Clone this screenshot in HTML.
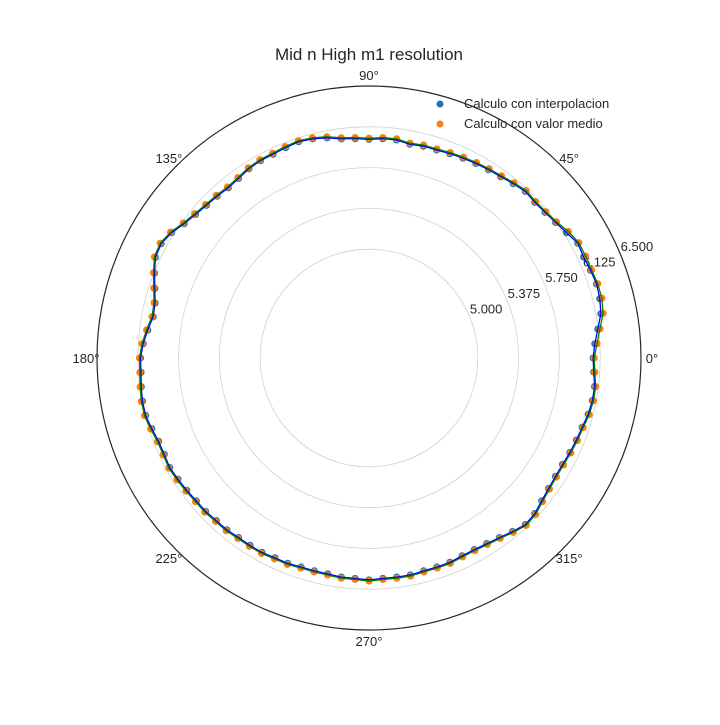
<!DOCTYPE html>
<html><head><meta charset="utf-8"><style>
body{margin:0;background:#fff}
text{font-family:"Liberation Sans","DejaVu Sans",sans-serif;fill:#262626}
</style></head><body>
<svg id="chart" width="720" height="720" xmlns="http://www.w3.org/2000/svg">
<rect width="720" height="720" fill="#fff"/>
<text x="369" y="60" text-anchor="middle" font-size="17">Mid n High m1 resolution</text>
<g id="grid"></g>
<g id="marks"></g>
<g>
<circle cx="440" cy="104" r="3.5" fill="#1f77b4"/>
<text x="464" y="108" font-size="13">Calculo con interpolacion</text>
<circle cx="440" cy="124" r="3.5" fill="#ff7f0e"/>
<text x="464" y="128" font-size="13">Calculo con valor medio</text>
</g>
</svg>
<script>
const rTicks=[5.0,5.375,5.75,6.125,6.5];
const rTickLabels=["5.000","5.375","5.750","6.125","6.500"];
const angleTicks=[0,45,90,135,180,225,270,315];
const angleLabels=["0°","45°","90°","135°","180°","225°","270°","315°"];
const interp=[6.06,6.08,6.12,6.17,6.19,6.20,6.19,6.18,6.19,6.15,6.12,
6.10,6.09,6.10,6.08,6.06,6.05,6.04,6.03,6.02,6.01,
6.01,6.00,6.02,6.02,6.01,6.02,6.03,6.06,6.08,6.09,
6.08,6.07,6.07,6.06,6.04,6.03,6.04,6.05,6.07,6.10,
6.15,6.18,6.17,6.12,6.07,6.03,6.02,6.05,6.08,6.10,
6.10,6.11,6.12,6.12,6.10,6.08,6.08,6.09,6.08,6.07,
6.06,6.06,6.05,6.05,6.04,6.04,6.04,6.03,6.03,6.02,
6.02,6.02,6.03,6.03,6.04,6.03,6.03,6.03,6.02,6.02,
6.02,6.01,6.01,6.02,6.04,6.07,6.10,6.09,6.06,6.04,
6.03,6.03,6.04,6.05,6.06,6.08,6.09,6.09,6.07];
const medio=[6.07,6.10,6.14,6.19,6.21,6.21,6.20,6.20,6.20,6.17,6.13,
6.11,6.10,6.11,6.09,6.07,6.06,6.05,6.04,6.03,6.02,
6.02,6.01,6.03,6.03,6.02,6.03,6.04,6.07,6.09,6.10,
6.09,6.08,6.08,6.07,6.05,6.04,6.05,6.06,6.08,6.11,
6.16,6.19,6.18,6.13,6.08,6.04,6.03,6.06,6.09,6.11,
6.11,6.12,6.13,6.13,6.11,6.09,6.09,6.10,6.09,6.08,
6.07,6.07,6.06,6.06,6.05,6.05,6.05,6.04,6.04,6.03,
6.03,6.03,6.04,6.04,6.05,6.04,6.04,6.04,6.03,6.03,
6.03,6.02,6.02,6.03,6.05,6.08,6.11,6.10,6.07,6.05,
6.04,6.04,6.05,6.06,6.07,6.09,6.10,6.10,6.08];
const CX=369,CY=358,R=272,RMIN=4.0,RMAX=6.5;
const NS="http://www.w3.org/2000/svg";
function rScale(v){return (v-RMIN)/(RMAX-RMIN)*R;}
function pt(deg,v){const a=deg*Math.PI/180,r=rScale(v);return [CX+r*Math.cos(a),CY-r*Math.sin(a)];}
function mk(tag,attrs,parent){const e=document.createElementNS(NS,tag);for(const k in attrs)e.setAttribute(k,attrs[k]);parent.appendChild(e);return e;}
const grid=document.getElementById('grid'),marks=document.getElementById('marks');
rTicks.forEach((t,i)=>{
  const last=i===rTicks.length-1;
  const c=mk('circle',{cx:CX,cy:CY,r:rScale(t),fill:'none',stroke:last?'#262626':'#d0d0d0','stroke-width':last?1.2:0.8},grid);
  
  
  const a=22.5*Math.PI/180,r=rScale(t)+18;
  const tx=mk('text',{x:CX+r*Math.cos(a),y:CY-r*Math.sin(a)+4,'font-size':13,'text-anchor':'middle'},grid);
  tx.textContent=rTickLabels[i];
  
  
});
angleTicks.forEach((a,i)=>{
  const rad=a*Math.PI/180,r=R+11;
  const x=CX+r*Math.cos(rad),y=CY-r*Math.sin(rad)+5;
  const tx=mk('text',{x:x,y:y,'font-size':13,'text-anchor':'middle'},grid);
  tx.textContent=angleLabels[i];
  
  
});
function series(vals,color,lineColor,name){
  const n=vals.length;
  vals.forEach((v,i)=>{
    const p=pt(i*360/n,v);
    const c=mk('circle',{cx:p[0],cy:p[1],r:3.6,fill:color},marks);
    
    
  });
  return ()=>{
    const pts=vals.map((v,i)=>pt(i*360/n,v).join(',')).concat([pt(0,vals[0]).join(',')]).join(' ');
    const l=mk('polyline',{points:pts,fill:'none',stroke:lineColor,'stroke-width':1.3},marks);
    
    
  };
}
const lb=series(interp,'#1f77b4','#0000ff','interpolacion');
const lg=series(medio,'#ff7f0e','#008000','valor-medio');
lb();lg();
</script>
</body></html>
